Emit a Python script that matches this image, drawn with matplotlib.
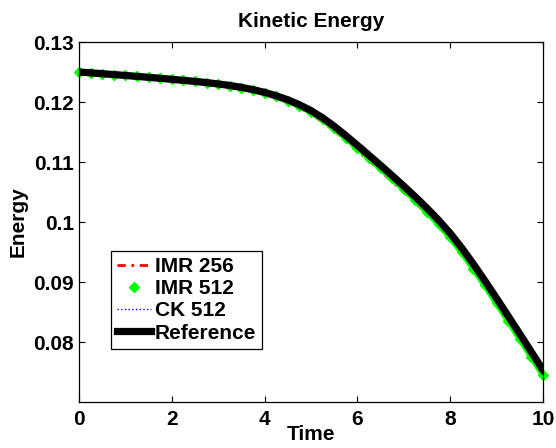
import matplotlib
matplotlib.use("Agg")
import matplotlib.pyplot as plt

plt.rcParams['font.family'] = ['Liberation Sans', 'DejaVu Sans']
plt.rcParams['font.weight'] = 'bold'

time = [0, 0.25, 0.5, 0.75, 1, 1.25, 1.5, 1.75, 2, 2.25, 2.5, 2.75, 3, 3.25, 3.5, 3.75, 4,
        4.25, 4.5, 4.75, 5, 5.25, 5.5, 5.75, 6, 6.25, 6.5, 6.75, 7, 7.25, 7.5, 7.75, 8,
        8.25, 8.5, 8.75, 9, 9.25, 9.5, 9.75, 10]
reference = [0.12500, 0.12486, 0.12472, 0.12457, 0.12442, 0.12427, 0.12411, 0.12395, 0.12378,
             0.12361, 0.12343, 0.12323, 0.12301, 0.12275, 0.12244, 0.12206, 0.12160,
             0.12104, 0.12036, 0.11954, 0.11856, 0.11736, 0.11596, 0.11441, 0.11278,
             0.11112, 0.10944, 0.10773, 0.10598, 0.10418, 0.10230, 0.10030, 0.09812,
             0.09567, 0.09299, 0.09017, 0.08727, 0.08432, 0.08134, 0.07834, 0.07532]
ck512 = [0.12500, 0.12486, 0.12472, 0.12457, 0.12442, 0.12427, 0.12411, 0.12395, 0.12378,
         0.12361, 0.12343, 0.12323, 0.12301, 0.12275, 0.12244, 0.12206, 0.12160,
         0.12104, 0.12036, 0.11954, 0.11856, 0.11736, 0.11596, 0.11441, 0.11278,
         0.11112, 0.10944, 0.10773, 0.10598, 0.10418, 0.10230, 0.10030, 0.09812,
         0.09567, 0.09299, 0.09017, 0.08724, 0.08428, 0.08129, 0.07828, 0.07522]
imr512 = [0.12500, 0.12486, 0.12472, 0.12457, 0.12442, 0.12427, 0.12411, 0.12395, 0.12378,
          0.12361, 0.12343, 0.12323, 0.12301, 0.12275, 0.12239, 0.12201, 0.12150,
          0.12094, 0.12021, 0.11939, 0.11836, 0.11711, 0.11566, 0.11406, 0.11238,
          0.11072, 0.10899, 0.10728, 0.10548, 0.10363, 0.10170, 0.09965, 0.09742,
          0.09497, 0.09224, 0.08942, 0.08647, 0.08352, 0.08054, 0.07754, 0.07452]
imr256 = [0.12500, 0.12486, 0.12472, 0.12457, 0.12442, 0.12427, 0.12411, 0.12395, 0.12378,
          0.12361, 0.12343, 0.12323, 0.12301, 0.12270, 0.12234, 0.12191, 0.12140,
          0.12074, 0.11996, 0.11904, 0.11796, 0.11666, 0.11521, 0.11361, 0.11188,
          0.11022, 0.10849, 0.10673, 0.10498, 0.10318, 0.10130, 0.09935, 0.09722,
          0.09482, 0.09219, 0.08937, 0.08647, 0.08352, 0.08054, 0.07754, 0.07452]

fig = plt.figure(figsize=(5.56, 4.48), dpi=100)
ax = fig.add_axes([79/556, 1-402/448, 464/556, 360/448])

ax.plot(time, imr256, color='red', lw=2.0, dashes=(3, 2, 1, 2), label='IMR 256')
ax.plot(time, imr512, color='#00ff00', lw=4.6, label='_nolegend_')
ax.plot(time, imr512, color='#00ff00', linestyle='none', marker='D', markersize=5,
        label='IMR 512', clip_on=False)
ax.plot(time, ck512, color='blue', linestyle=':', lw=1.0, label='CK 512')
ax.plot(time, reference, color='black', lw=5.2, label='Reference')

ax.set_xlim(0, 10)
ax.set_ylim(0.07, 0.13)
ax.set_xticks([0, 2, 4, 6, 8, 10])
ax.set_yticks([0.08, 0.09, 0.10, 0.11, 0.12, 0.13])
ax.set_yticklabels(['0.08', '0.09', '0.1', '0.11', '0.12', '0.13'])
ax.tick_params(direction='in', length=4, width=0.8, top=True, right=True, labelsize=15)
ax.tick_params(axis='x', pad=6)
ax.tick_params(axis='y', pad=3.5)
for lab in ax.get_xticklabels() + ax.get_yticklabels():
    lab.set_fontweight('bold')
for s in ax.spines.values():
    s.set_linewidth(0.9)

ax.set_title('Kinetic Energy', fontsize=15, fontweight='bold', pad=11)
ax.set_xlabel('Time', fontsize=15, fontweight='bold', labelpad=-3)
ax.set_ylabel('Energy', fontsize=15, fontweight='bold', labelpad=4)

leg = ax.legend(loc='upper left', bbox_to_anchor=(111/556, 1-251/448),
                bbox_transform=fig.transFigure, borderaxespad=0,
                fancybox=False, framealpha=1, edgecolor='black',
                prop={'size': 15, 'weight': 'bold'}, handlelength=1.6,
                handletextpad=0.2, labelspacing=0.15, borderpad=0.3)
leg.get_frame().set_linewidth(0.9)

fig.savefig('out.png', dpi=100)
